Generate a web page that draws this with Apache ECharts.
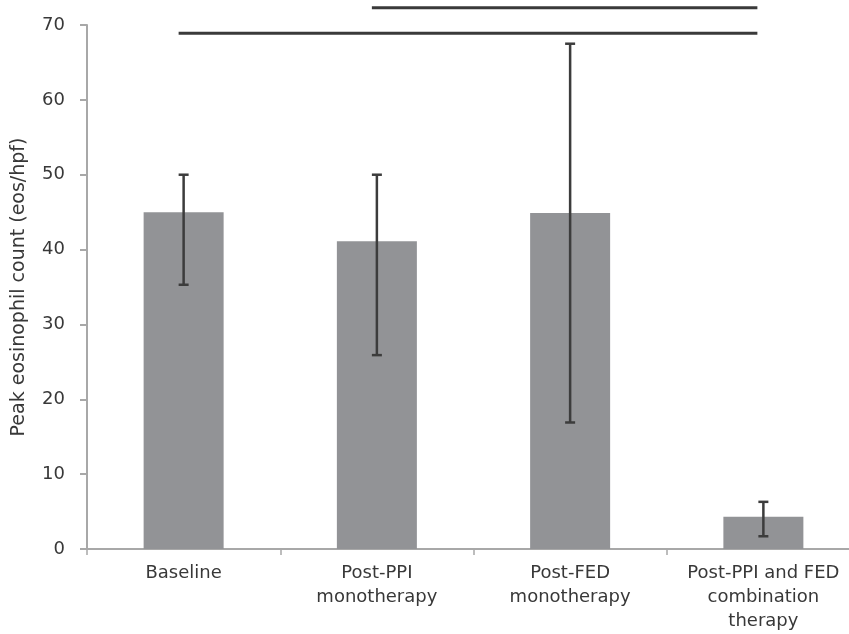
<!DOCTYPE html>
<html>
<head>
<meta charset="utf-8">
<script src="https://cdn.jsdelivr.net/npm/echarts@6/dist/echarts.min.js"></script>
<style>html,body{margin:0;padding:0;background:#fff;overflow:hidden}#c{width:860px;height:634px}</style>
</head>
<body>
<div id="c"></div>
<script>
const categories = ['Baseline', 'Post-PPI\nmonotherapy', 'Post-FED\nmonotherapy', 'Post-PPI and FED\ncombination\ntherapy'];
const means = [45.0, 41.1, 44.9, 4.3];
const errLow = [35.3, 25.9, 16.9, 1.7];
const errHigh = [50.0, 50.0, 67.5, 6.3];
const yTicks = [0, 10, 20, 30, 40, 50, 60, 70];
// significance brackets: [fromCategoryIndex, toCategoryIndex, yValue]
const sigLines = [[0, 3, 68.9], [1, 3, 72.3]];

const font = 'DejaVu Sans';
const textColor = '#383838';
const axisColor = '#a8a8a8';

const chart = echarts.init(document.getElementById('c'), null, {renderer: 'canvas'});
chart.setOption({
  animation: false,
  backgroundColor: '#fff',
  grid: {left: 87, top: 25, right: 0, height: 524, containLabel: false},
  xAxis: {
    type: 'category',
    data: categories,
    boundaryGap: true,
    axisLine: {lineStyle: {color: axisColor, width: 2}},
    axisTick: {show: true, length: 6, inside: false, lineStyle: {color: axisColor, width: 1.5}},
    axisLabel: {color: textColor, fontFamily: font, fontSize: 18, lineHeight: 24, margin: 12, interval: 0}
  },
  yAxis: {
    type: 'value',
    min: yTicks[0],
    max: yTicks[yTicks.length - 1],
    interval: 10,
    name: 'Peak eosinophil count (eos/hpf)',
    nameLocation: 'middle',
    nameGap: 58,
    nameTextStyle: {color: textColor, fontFamily: font, fontSize: 19},
    splitLine: {show: false},
    axisLine: {show: true, lineStyle: {color: axisColor, width: 2}},
    axisTick: {show: true, length: 7, lineStyle: {color: axisColor, width: 2}},
    axisLabel: {color: textColor, fontFamily: font, fontSize: 18, margin: 22}
  },
  series: [
    {
      type: 'bar',
      data: means,
      barWidth: 80,
      itemStyle: {color: '#929396'},
      z: 1
    },
    {
      type: 'custom',
      z: 3,
      data: means.map((m, i) => [i, errLow[i], errHigh[i]]),
      renderItem: function (params, api) {
        const i = api.value(0);
        const lo = api.coord([i, api.value(1)]);
        const hi = api.coord([i, api.value(2)]);
        const cap = 5;
        const st = {stroke: '#3c3c3c', lineWidth: 2.5};
        return {
          type: 'group',
          children: [
            {type: 'line', shape: {x1: hi[0], y1: hi[1], x2: lo[0], y2: lo[1]}, style: st},
            {type: 'line', shape: {x1: hi[0] - cap, y1: hi[1], x2: hi[0] + cap, y2: hi[1]}, style: st},
            {type: 'line', shape: {x1: lo[0] - cap, y1: lo[1], x2: lo[0] + cap, y2: lo[1]}, style: st}
          ]
        };
      }
    },
    {
      type: 'custom',
      z: 3,
      clip: false,
      data: sigLines,
      renderItem: function (params, api) {
        const a = api.coord([api.value(0), api.value(2)]);
        const b = api.coord([api.value(1), api.value(2)]);
        return {
          type: 'line',
          shape: {x1: a[0] - 5, y1: a[1], x2: b[0] - 6, y2: b[1]},
          style: {stroke: '#3a3a3a', lineWidth: 3}
        };
      }
    }
  ]
});
</script>
</body>
</html>
